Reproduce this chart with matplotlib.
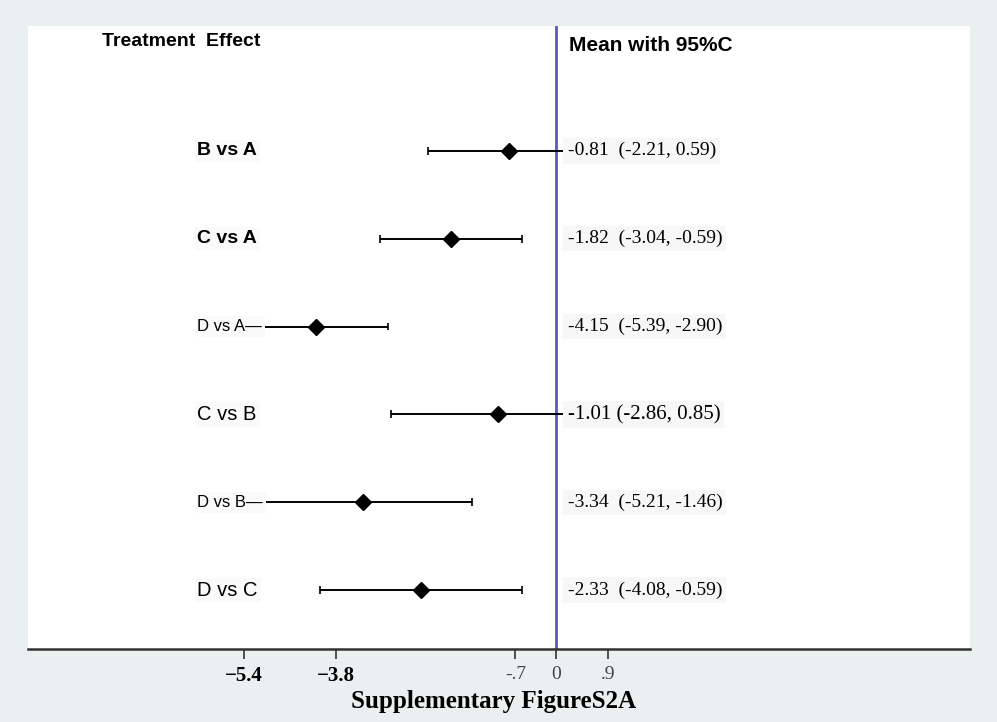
import matplotlib.pyplot as plt

# forest plot data
comparisons = ['B vs A', 'C vs A', 'D vs A\u2014', 'C vs B', 'D vs B\u2014', 'D vs C']
means = [-0.81, -1.82, -4.15, -1.01, -3.34, -2.33]
lower = [-2.21, -3.04, -5.39, -2.86, -5.21, -4.08]
upper = [0.33, -0.59, -2.90, 0.50, -1.46, -0.59]
ci_text = ['-0.81  (-2.21, 0.59)', '-1.82  (-3.04, -0.59)', '-4.15  (-5.39, -2.90)',
           '-1.01 (-2.86, 0.85)', '-3.34  (-5.21, -1.46)', '-2.33  (-4.08, -0.59)']
xticks = [-5.4, -3.8, -0.7, 0, 0.9]
xtick_labels = ['\u22125.4', '\u22123.8', '-.7', '0', '.9']

# label styles per row: (fontsize, weight)
label_style = [(14, 'bold'), (14, 'bold'), (12, 'normal'), (14.5, 'normal'), (12, 'normal'), (14.5, 'normal')]
ci_size = [14, 14, 14, 15, 14, 14]

bg = '#e9f0ef'
fig = plt.figure(figsize=(9.97, 7.22), dpi=100, facecolor=bg)
ax = fig.add_axes([0.0281, 0.1011, 0.9448, 0.8629])
ax.set_facecolor('white')

n = len(comparisons)
ys = list(range(n, 0, -1))

ax.hlines(ys, lower, upper, color='black', lw=1.4, zorder=3)
ax.vlines(lower, [y - 0.045 for y in ys], [y + 0.045 for y in ys], color='black', lw=1.2, zorder=3)
ax.vlines(upper, [y - 0.045 for y in ys], [y + 0.045 for y in ys], color='black', lw=1.2, zorder=3)
ax.plot(means, ys, 'D', color='black', ms=8, zorder=4)
ax.axvline(0, color='#5a5ab8', lw=2, zorder=2)

for i, y in enumerate(ys):
    fs, fw = label_style[i]
    ax.text(-6.2, y, comparisons[i], fontsize=fs, fontweight=fw, family='Liberation Sans',
            ha='left', va='center', zorder=5,
            bbox=dict(facecolor='#fafafa', edgecolor='none', pad=2))
    ax.text(0.2, y, ci_text[i], fontsize=ci_size[i], family='Liberation Serif',
            ha='left', va='center', zorder=5,
            bbox=dict(facecolor='#f7f7f7', edgecolor='none', pad=3))

ax.text(-7.85, 7.24, 'Treatment  Effect', fontsize=14, fontweight='bold',
        family='Liberation Sans', ha='left', va='center')
ax.text(0.22, 7.2, 'Mean with 95%C', fontsize=15, fontweight='bold',
        family='Liberation Sans', ha='left', va='center')

ax.set_xlim(-9.13, 7.16)
ax.set_ylim(0.33, 7.42)
ax.set_yticks([])
ax.set_xticks(xticks)
ax.set_xticklabels(xtick_labels, family='Liberation Serif', fontsize=14)
for lbl in ax.get_xticklabels()[:2]:
    lbl.set_fontweight('bold')
    lbl.set_fontsize(15)
for lbl in ax.get_xticklabels()[2:]:
    lbl.set_color('#444444')
ax.tick_params(axis='x', length=7, width=1.2, color='#333333', pad=5)

for side in ['top', 'right', 'left']:
    ax.spines[side].set_visible(False)
ax.spines['bottom'].set_color('#333333')
ax.spines['bottom'].set_linewidth(1.8)

fig.text(0.495, 0.029, 'Supplementary FigureS2A', fontsize=18, fontweight='bold',
         family='Liberation Serif', ha='center', va='center')

fig.savefig('out.png', dpi=100, facecolor=bg)
